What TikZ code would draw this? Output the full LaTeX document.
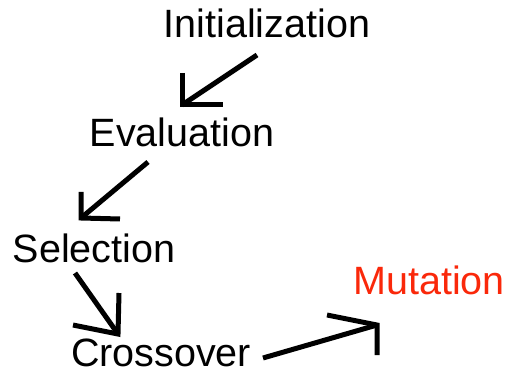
\documentclass[tikz,border=0pt]{standalone}
\usepackage{fontspec}
\setmainfont{Liberation Sans}
\definecolor{mutred}{RGB}{250,40,10}
\begin{document}
\begin{tikzpicture}[x=1pt,y=-1pt]
\useasboundingbox[fill=white] (0,0) rectangle (508,371);
\tikzset{
  lbl/.style={anchor=base, inner sep=0pt, font=\fontsize{39.5}{42}\selectfont},
  stroke/.style={line width=5pt, line join=miter, line cap=butt}
}
% stage labels
\node[lbl] (init) at (267,38) {Initialization};
\node[lbl] (eval) at (182,147) {Evaluation};
\node[lbl] (sel)  at (94,262)  {Selection};
\node[lbl] (cross) at (161,366) {Crossover};
\node[lbl, text=mutred] (mut) at (429,294) {Mutation};

% hand-drawn arrows between the stages
\coordinate (a1s) at (257,55);  \coordinate (a1t) at (182,105);
\coordinate (a2s) at (148,162); \coordinate (a2t) at (81,218);
\coordinate (a3s) at (75,273);  \coordinate (a3t) at (118,334);
\coordinate (a4s) at (263,358); \coordinate (a4t) at (377,325);

\draw[stroke] (a1s) -- (a1t);
\draw[stroke] (182,73) -- (a1t) -- (223,105);

\draw[stroke] (a2s) -- (a2t);
\draw[stroke] (81,192) -- (a2t) -- (120,219);

\draw[stroke] (a3s) -- (a3t);
\draw[stroke] (119,293) -- (a3t) -- (73,325);

\draw[stroke] (a4s) -- (a4t);
\draw[stroke] (327,315) -- (a4t) -- (377,355);
\end{tikzpicture}
\end{document}
